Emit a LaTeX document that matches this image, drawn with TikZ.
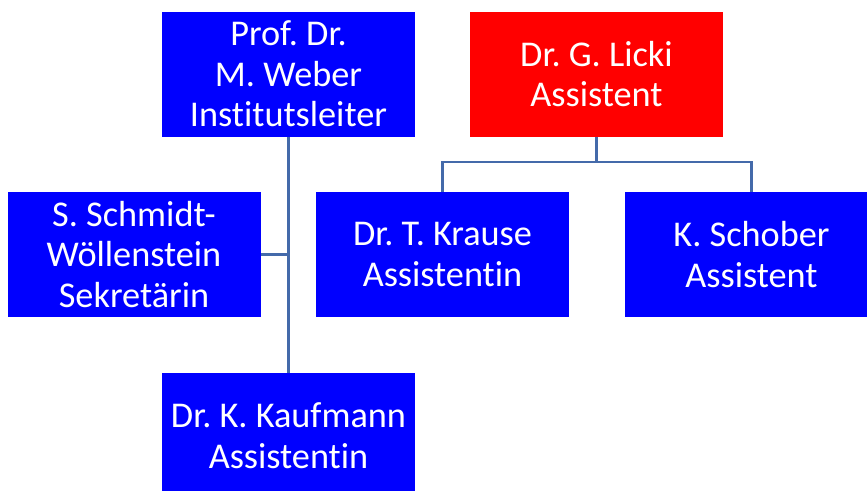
\documentclass[tikz,border=0pt]{standalone}
\usepackage{fontspec}
\setmainfont{Carlito}[Ligatures=NoCommon]
\frenchspacing
\definecolor{linie}{RGB}{68,106,170}
\begin{document}
\begin{tikzpicture}[x=0.75pt,y=-0.75pt,font=\fontsize{27.2}{30.5}\selectfont,
	person/.style={rectangle,fill=blue,text=white,minimum width=253*0.75pt,minimum height=125*0.75pt,align=center,inner sep=0},
	chef/.style={person,fill=red},
	verb/.style={draw=linie,line width=1.6pt}]
	\clip(0,0)rectangle(867,490);
	\path(288.5,74)node[person](weber){Prof. Dr.\\M. Weber\\Institutsleiter}
	(596.5,74)node[chef](licki){Dr. G. Licki\\Assistent}
	(134,254.5)node[person](schmidt){S. Schmidt-\\Wöllenstein\\Sekretärin}
	(442.5,254.5)node[person](krause){Dr. T. Krause\\Assistentin}
	(751.5,254.5)node[person](schober){K. Schober\\Assistent}
	(288.5,435.5)node[person](kaufmann){Dr. K. Kaufmann\\Assistentin}
	;
	\coordinate(ast) at (weber.south|-schmidt.east);
	\coordinate(knick) at (596.5,162);
	\draw[verb](weber.south)--(kaufmann.north);
	\draw[verb](schmidt.east)--(ast);
	\draw[verb](licki.south)--(knick);
	\draw[verb](krause.north)|-(knick)-|(schober.north);
\end{tikzpicture}
\end{document}
